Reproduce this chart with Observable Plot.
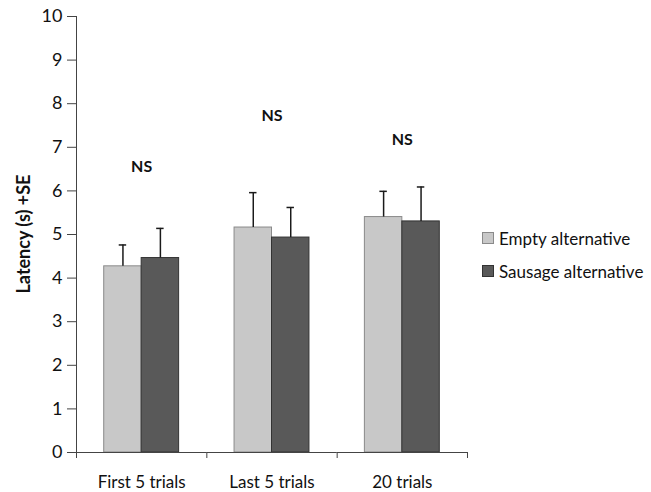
<!DOCTYPE html>
<html><head><meta charset="utf-8">
<script src="https://cdn.jsdelivr.net/npm/d3@7"></script>
<script src="https://cdn.jsdelivr.net/npm/@observablehq/plot@0.6"></script>
<style>
body{margin:0;background:#fff;font-family:Lato,"Open Sans",sans-serif;}
#wrap{position:relative;width:651px;height:492px;}
#ytitle{position:absolute;left:23px;top:234px;transform:translate(-50%,-50%) rotate(-90deg);font-weight:bold;font-size:18px;white-space:nowrap;color:#111;}
.lg{position:absolute;left:482px;height:20px;display:flex;align-items:center;font-size:17px;color:#111;white-space:nowrap;}
.sw{width:10px;height:10px;margin-right:5px;border:1px solid;}
</style></head>
<body><div id="wrap"></div>
<script>
const categories = ["First 5 trials", "Last 5 trials", "20 trials"];
const series = ["Empty alternative", "Sausage alternative"];
const emptyMeans = [4.27, 5.16, 5.40];
const emptySE = [0.49, 0.80, 0.59];
const sausageMeans = [4.46, 4.93, 5.30];
const sausageSE = [0.68, 0.69, 0.79];
const nsLabels = ["NS", "NS", "NS"];
const nsHeights = [6.54, 7.71, 7.16];
const yTicks = [0, 1, 2, 3, 4, 5, 6, 7, 8, 9, 10];
const yTitle = "Latency (s) +SE";

const fills = ["#c8c8c8", "#595959"];
const strokes = ["#8a8a8a", "#333333"];

const rows = [];
categories.forEach((c, i) => {
  rows.push({category: c, series: series[0], value: emptyMeans[i], se: emptySE[i]});
  rows.push({category: c, series: series[1], value: sausageMeans[i], se: sausageSE[i]});
});
const nsRows = categories.map((c, i) => ({category: c, label: nsLabels[i], y: nsHeights[i]}));
const catRows = categories.map(c => ({category: c}));

const W = 651, H = 492, mL = 76, mR = 184, mT = 16, mB = 40;
const padOuter = 0.74;
const facetW = (W - mL - mR) / categories.length;
const step = facetW / (series.length + 2 * padOuter);
const edgeOffset = (padOuter + 0.5) * step;
const tickLen = 6 / ((H - mT - mB) / 10);

const axisColor = "#444";

const chart = Plot.plot({
  width: W, height: H,
  marginLeft: mL, marginRight: mR, marginTop: mT, marginBottom: mB,
  style: {fontFamily: "Lato, 'Open Sans', sans-serif", background: "#fff", color: "#111"},
  fx: {domain: categories, padding: 0, round: false, label: null, axis: null},
  x: {domain: series, paddingInner: 0, paddingOuter: padOuter, round: false, axis: null},
  y: {domain: [0, 10], label: null, axis: null},
  marks: [
    Plot.barY(rows.filter(d => d.series === series[0]), {fx: "category", x: "series", y: "value", fill: fills[0], stroke: strokes[0], strokeWidth: 1}),
    Plot.barY(rows.filter(d => d.series === series[1]), {fx: "category", x: "series", y: "value", fill: fills[1], stroke: strokes[1], strokeWidth: 1}),
    Plot.ruleX(rows, {fx: "category", x: "series", y1: "value", y2: d => d.value + d.se, stroke: "#1a1a1a", strokeWidth: 1.5}),
    Plot.tickY(rows, {fx: "category", x: "series", y: d => d.value + d.se, stroke: "#1a1a1a", strokeWidth: 1.5, insetLeft: 15, insetRight: 15}),
    Plot.text(nsRows, {fx: "category", y: "y", text: "label", fontWeight: "bold", fontSize: 16, fill: "#111"}),
    Plot.ruleY([0], {stroke: axisColor, strokeWidth: 1}),
    Plot.ruleX(catRows, {fx: "category", x: () => series[0], y1: 0, y2: -tickLen, dx: -edgeOffset, stroke: axisColor}),
    Plot.ruleX(catRows.slice(-1), {fx: "category", x: () => series[1], y1: 0, y2: -tickLen, dx: edgeOffset, stroke: axisColor}),
    Plot.ruleX(catRows.slice(0, 1), {fx: "category", x: () => series[0], y1: 0, y2: 10, dx: -edgeOffset, stroke: axisColor}),
    Plot.axisY({ticks: yTicks, tickSize: 9, tickPadding: 5, fontSize: 18, label: null, stroke: axisColor, fill: "#111"}),
    Plot.axisFx({anchor: "bottom", tickSize: 0, tickPadding: 23, fontSize: 17, label: null, fill: "#111"})
  ]
});

const wrap = document.getElementById("wrap");
wrap.appendChild(chart);
const t = document.createElement("div");
t.id = "ytitle"; t.textContent = yTitle;
wrap.appendChild(t);
const legendTops = [228, 261];
series.forEach((s, i) => {
  const r = document.createElement("div");
  r.className = "lg"; r.style.top = legendTops[i] + "px";
  const sw = document.createElement("span");
  sw.className = "sw"; sw.style.background = fills[i]; sw.style.borderColor = strokes[i];
  r.appendChild(sw);
  r.appendChild(document.createTextNode(s));
  wrap.appendChild(r);
});
</script>
</body></html>
